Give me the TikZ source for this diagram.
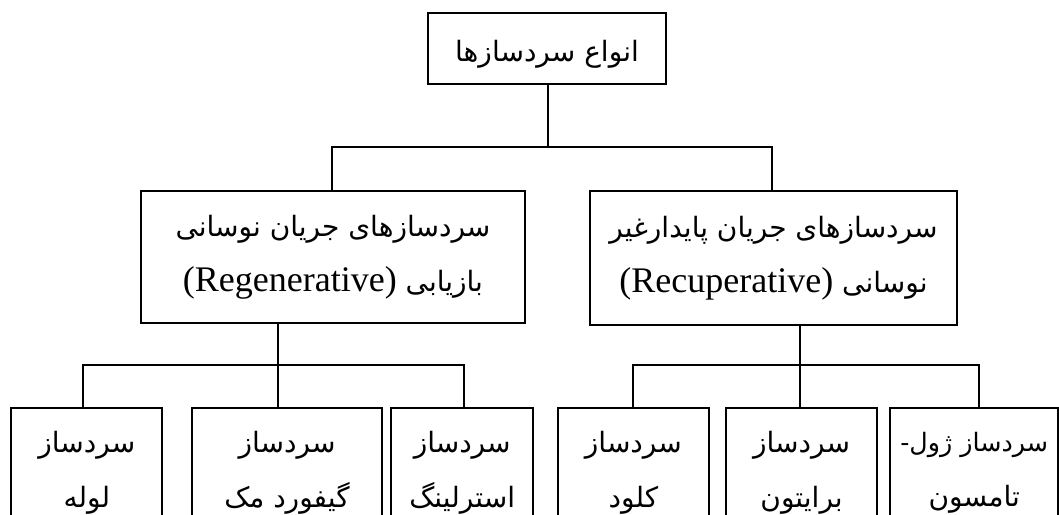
\documentclass[tikz,border=0pt]{standalone}
\usepackage{fontspec}
\setmainfont{Liberation Serif}
\newfontfamily\fa[Script=Arabic]{DejaVu Sans}
\TeXXeTstate=1
\newcommand{\fl}[1]{\fa\beginR #1\endR}
\newcommand{\la}[1]{\beginL{\rmfamily\fontsize{27}{41}\selectfont #1}\endL}
\begin{document}
\begin{tikzpicture}[x=0.75pt,y=-0.75pt,
  box/.style={draw, line width=1.5pt, rectangle, align=center, inner sep=0pt,
    font=\fontsize{21}{41}\selectfont},
  wire/.style={line width=1.5pt}]
\useasboundingbox (0,0) rectangle (1059,514);
\clip (0,0) rectangle (1059,514);
% top
\node[box, minimum width=178.5pt, minimum height=53.25pt, text height=24pt, text depth=5pt] (top) at (547,48.5) {\fl{انواع سردسازها}};
% middle
\node[box, minimum width=288pt, minimum height=99pt] (L) at (333,257)
  {\fl{سردسازهای جریان نوسانی}\\ \fl{بازیابی \la{(Regenerative)}}};
\node[box, minimum width=275.25pt, minimum height=100.5pt] (R) at (773.5,258)
  {\fl{سردسازهای جریان پایدارغیر}\\ \fl{نوسانی \la{(Recuperative)}}};
% bottom
\node[box, minimum width=113pt, minimum height=97.5pt] (b1) at (86.8,473) {\fl{سردساز}\\ \fl{لوله}};
\node[box, minimum width=142.4pt, minimum height=97.5pt] (b2) at (287,473) {\fl{سردساز}\\ \fl{گیفورد مک}};
\node[box, minimum width=106.1pt, minimum height=97.5pt] (b3) at (462.2,473) {\fl{سردساز}\\ \fl{استرلینگ}};
\node[box, minimum width=113.1pt, minimum height=97.5pt] (b4) at (633.4,473) {\fl{سردساز}\\ \fl{کلود}};
\node[box, minimum width=113.8pt, minimum height=97.5pt] (b5) at (801.6,473) {\fl{سردساز}\\ \fl{برایتون}};
\node[box, minimum width=125.8pt, minimum height=97.5pt] (b6) at (974.2,473) {{\fontsize{19}{41}\selectfont\fl{سردساز ژول-}}\\ \fl{تامسون}};
% junction coordinates
\coordinate (t0) at (548,147);
\coordinate (tl) at (332,147);
\coordinate (tr) at (772,147);
\coordinate (l1) at (83,365);
\coordinate (l2) at (278,365);
\coordinate (l3) at (464,365);
\coordinate (r1) at (633,365);
\coordinate (r2) at (800,365);
\coordinate (r3) at (979,365);
% connectors
\draw[wire] (top.south -| t0) -- (t0);
\draw[wire] (tl |- L.north) -- (tl) -- (tr) -- (tr |- R.north);
\draw[wire] (l2 |- L.south) -- (l2 |- b2.north);
\draw[wire] (l1 |- b1.north) -- (l1) -- (l3) -- (l3 |- b3.north);
\draw[wire] (r2 |- R.south) -- (r2 |- b5.north);
\draw[wire] (r1 |- b4.north) -- (r1) -- (r3) -- (r3 |- b6.north);
\end{tikzpicture}
\end{document}
